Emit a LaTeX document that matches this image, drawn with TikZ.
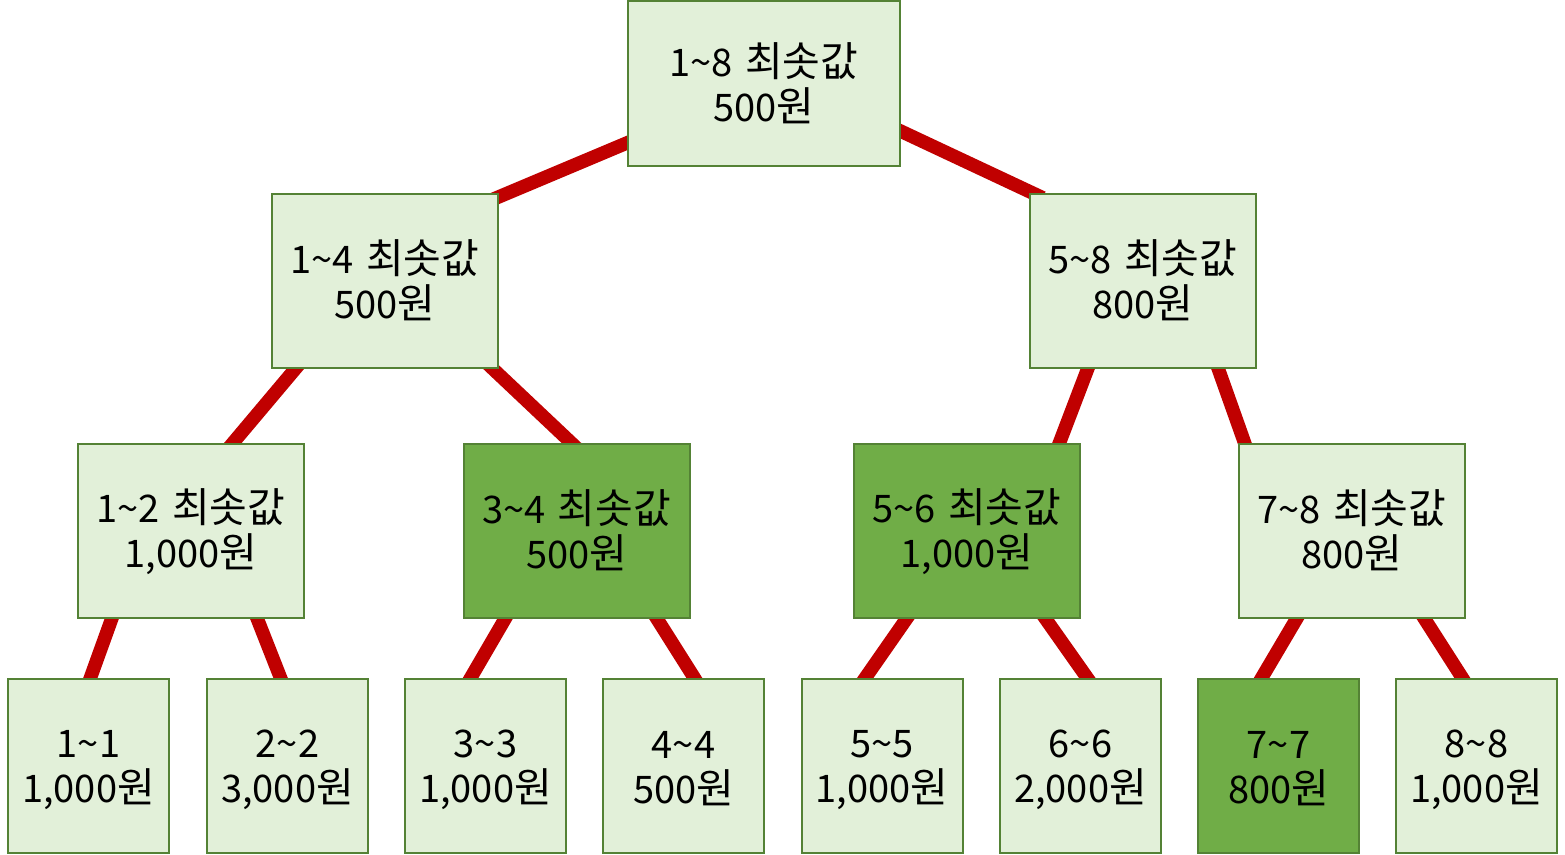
\documentclass[tikz,border=0pt]{standalone}
\usepackage{fontspec}
\setmainfont{Noto Sans CJK KR}
\usetikzlibrary{calc,backgrounds}
\definecolor{lightg}{HTML}{E2F0D9}
\definecolor{darkg}{HTML}{70AD47}
\definecolor{bordg}{HTML}{548235}
\definecolor{redline}{HTML}{C00000}
\newcommand{\tld}{\textasciitilde}
\newcommand{\hg}[1]{{\fontsize{41}{45}\selectfont #1}}
\newcommand{\lnstrut}{\rule{0pt}{36pt}\rule[-6pt]{0pt}{6pt}}
\newcommand{\rng}[2]{\lnstrut#1\tld#2\hspace{12pt}\hg{최솟값}}
\newcommand{\won}[1]{\lnstrut#1\hg{원}}
\newcommand{\leafr}[1]{\lnstrut#1\tld#1}
\begin{document}
\begin{tikzpicture}[x=1pt,y=-1pt,
  box/.style={draw=bordg, line width=2pt, fill=lightg, align=center, inner sep=0pt, outer sep=0pt, font=\fontsize{38}{45}\selectfont},
  hi/.style={box, fill=darkg},
  topbox/.style={minimum width=272pt, minimum height=165pt},
  midbox/.style={minimum width=226pt, minimum height=174pt},
  leafbox/.style={minimum width=161pt, minimum height=174pt},
  edge/.style={draw=redline, line width=13.5pt, shorten <=-14pt, shorten >=-14pt}]
\useasboundingbox (0,0) rectangle (1565,854);
% nodes
\node[box, topbox] (r) at (764,83.5) {\rng{1}{8}\\\won{500}};
\node[box, midbox] (a) at (385,281) {\rng{1}{4}\\\won{500}};
\node[box, midbox] (b) at (1143,281) {\rng{5}{8}\\\won{800}};
\node[box, midbox] (a1) at (191,531) {\rng{1}{2}\\\won{1,000}};
\node[hi, midbox] (a2) at (576.5,531) {\rng{3}{4}\\\won{500}};
\node[hi, midbox] (b1) at (967,531) {\rng{5}{6}\\\won{1,000}};
\node[box, midbox] (b2) at (1352,531) {\rng{7}{8}\\\won{800}};
\node[box, leafbox] (l1) at (88.5,766) {\leafr{1}\\\won{1,000}};
\node[box, leafbox] (l2) at (287.5,766) {\leafr{2}\\\won{3,000}};
\node[box, leafbox] (l3) at (485.5,766) {\leafr{3}\\\won{1,000}};
\node[box, leafbox] (l4) at (683.5,766) {\leafr{4}\\\won{500}};
\node[box, leafbox] (l5) at (882,766) {\leafr{5}\\\won{1,000}};
\node[box, leafbox] (l6) at (1080.5,766) {\leafr{6}\\\won{2,000}};
\node[hi, leafbox] (l7) at (1278.5,766) {\leafr{7}\\\won{800}};
\node[box, leafbox] (l8) at (1476.5,766) {\leafr{8}\\\won{1,000}};
% connectors
\begin{scope}[on background layer]
\fill[white] (0,0) rectangle (1565,854);
\draw[edge] ($(r.south west)+(0,-23.5)$) -- ($(a.north east)+(0,3.2)$);
\draw[edge] ($(r.south east)+(0,-35.2)$) -- ($(b.north west)+(0,-2.2)$);
\draw[edge] ($(a.south west)+(24,0)$) -- ($(a1.north west)+(154,0)$);
\draw[edge] ($(a.south west)+(220,0)$) -- ($(a2.north west)+(109,0)$);
\draw[edge] ($(b.south west)+(58,0)$) -- ($(b1.north west)+(205,0)$);
\draw[edge] ($(b.south west)+(188,0)$) -- ($(b2.north west)+(6,0)$);
\draw[edge] ($(a1.south west)+(34,0)$) -- ($(l1.north west)+(82,0)$);
\draw[edge] ($(a1.south west)+(179,0)$) -- ($(l2.north west)+(74,0)$);
\draw[edge] ($(a2.south west)+(42,0)$) -- ($(l3.north west)+(65,0)$);
\draw[edge] ($(a2.south west)+(193,0)$) -- ($(l4.north west)+(92,0)$);
\draw[edge] ($(b1.south west)+(53,0)$) -- ($(l5.north west)+(63,0)$);
\draw[edge] ($(b1.south west)+(191,0)$) -- ($(l6.north west)+(88,0)$);
\draw[edge] ($(b2.south west)+(58,0)$) -- ($(l7.north west)+(63,0)$);
\draw[edge] ($(b2.south west)+(185,0)$) -- ($(l8.north west)+(67,0)$);
\end{scope}
\end{tikzpicture}
\end{document}
